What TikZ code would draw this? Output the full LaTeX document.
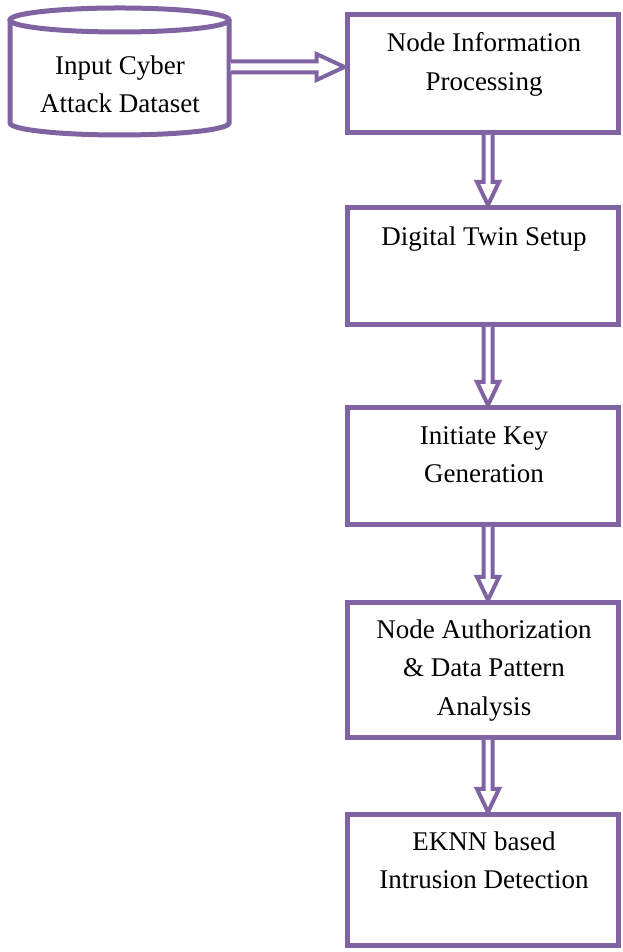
\documentclass[tikz,border=0pt]{standalone}
\usepackage{fontspec}
\setmainfont{Liberation Serif}
\usetikzlibrary{calc}
\definecolor{flowpurple}{RGB}{128,100,162}
\tikzset{
  stage/.style={draw=flowpurple, line width=5pt, minimum width=271pt, inner sep=0pt},
  caption/.style={anchor=north, align=center, inner sep=0pt, font=\fontsize{27}{38.5}\selectfont},
  hollow/.style={draw=flowpurple, line width=4pt, fill=white, line join=miter},
  drum/.style={draw=flowpurple, line width=5pt, fill=white},
}
% hollow double-shafted arrow from the bottom of #1 down to the top of #2
\newcommand\downlink[2]{%
  \draw[hollow] let \p1=($(#1.south)+(5.5pt,0)$), \p2=($(#2.north)+(5.5pt,0)$) in
    (\x1-4.5pt,\y1) -- (\x1-4.5pt,\y2+23pt) -- (\x1-11pt,\y2+23pt) -- (\x2,\y2)
    -- (\x1+11pt,\y2+23pt) -- (\x1+4.5pt,\y2+23pt) -- (\x1+4.5pt,\y1);
}
\begin{document}
\begin{tikzpicture}[x=1pt,y=1pt]
\useasboundingbox (0,0) rectangle (622,952);

% input dataset drum
\node[minimum width=222pt, minimum height=100pt, inner sep=0pt, outer sep=0pt] (data) at (119.5,885) {};
\draw[drum] (10,932) -- (10,829) arc[start angle=180, end angle=360, x radius=109.5pt, y radius=12pt] -- (229,932);
\draw[drum] (119.5,932) ellipse [x radius=109.5pt, y radius=12pt];
\node[caption] (datatext) at (120,896.5) {Input Cyber\\Attack Dataset};

% process stages
\node[stage, minimum height=118pt] (b1) at (482.5,878.5) {};
\node[stage, minimum height=117pt] (b2) at (482.5,686) {};
\node[stage, minimum height=117pt] (b3) at (482.5,486) {};
\node[stage, minimum height=135pt] (b4) at (482.5,282) {};
\node[stage, minimum height=131pt] (b5) at (482.5,72) {};

\node[caption] (t1) at ($(b1.north)+(1.5,-20.5)$) {Node Information\\Processing};
\node[caption] (t2) at ($(b2.north)+(1.5,-21.5)$) {Digital Twin Setup};
\node[caption] (t3) at ($(b3.north)+(1.5,-21)$) {Initiate Key\\Generation};
\node[caption] (t4) at ($(b4.north)+(1.5,-19.5)$) {Node Authorization\\\& Data Pattern\\Analysis};
\node[caption] (t5) at ($(b5.north)+(1.5,-19.5)$) {EKNN based\\Intrusion Detection};

% dataset to first stage
\draw[hollow] let \p1=(data.east), \p2=(b1.west) in
  (\x1,\y1+5.5pt) -- (\x2-28pt,\y1+5.5pt) -- (\x2-28pt,\y1+13pt) -- (\x2,\y1)
  -- (\x2-28pt,\y1-13pt) -- (\x2-28pt,\y1-5.5pt) -- (\x1,\y1-5.5pt);

% stage to stage
\downlink{b1}{b2}
\downlink{b2}{b3}
\downlink{b3}{b4}
\downlink{b4}{b5}
\end{tikzpicture}
\end{document}
